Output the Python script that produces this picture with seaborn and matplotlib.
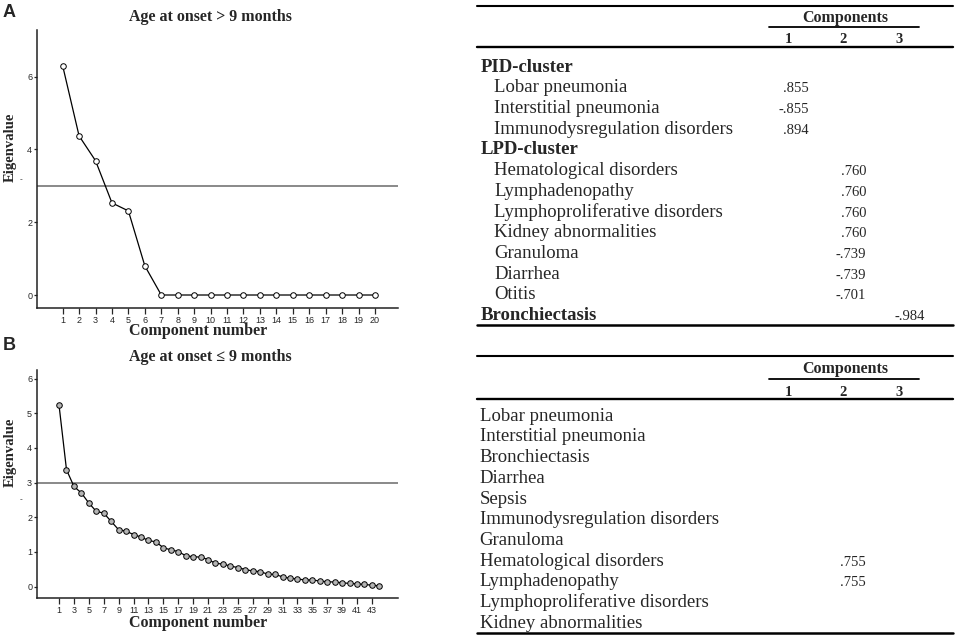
import numpy as np
import pandas as pd
import matplotlib
matplotlib.use('Agg')
import seaborn as sns
import matplotlib.pyplot as plt

# scree data, panel A (onset > 9 months) and panel B (onset <= 9 months)
components_a = list(range(1, 21))
eigen_a = [6.30, 4.37, 3.69, 2.53, 2.31, 0.80, 0.00, 0.00, 0.00, 0.00,
           0.00, 0.00, 0.00, 0.00, 0.00, 0.00, 0.00, 0.00, 0.00, 0.00]

components_b = list(range(1, 45))
eigen_b = [5.23, 3.37, 2.89, 2.70, 2.41, 2.17, 2.12, 1.88, 1.64, 1.60,
           1.50, 1.43, 1.33, 1.29, 1.12, 1.06, 1.01, 0.89, 0.86, 0.85,
           0.78, 0.67, 0.65, 0.59, 0.55, 0.49, 0.45, 0.43, 0.36, 0.35,
           0.28, 0.24, 0.22, 0.19, 0.19, 0.16, 0.14, 0.13, 0.11, 0.09,
           0.08, 0.06, 0.04, 0.02]

cutoff = 3

# loading tables
table_a_labels = ['PID-cluster', 'Lobar pneumonia', 'Interstitial pneumonia',
                  'Immunodysregulation disorders', 'LPD-cluster',
                  'Hematological disorders', 'Lymphadenopathy',
                  'Lymphoproliferative disorders', 'Kidney abnormalities',
                  'Granuloma', 'Diarrhea', 'Otitis', 'Bronchiectasis']
table_a_header = [True, False, False, False, True, False, False, False,
                  False, False, False, False, True]
table_a_component = [None, 1, 1, 1, None, 2, 2, 2, 2, 2, 2, 2, 3]
table_a_loading = [None, 0.855, -0.855, 0.894, None, 0.760, 0.760, 0.760,
                   0.760, -0.739, -0.739, -0.701, -0.984]

table_b_labels = ['Lobar pneumonia', 'Interstitial pneumonia', 'Bronchiectasis',
                  'Diarrhea', 'Sepsis', 'Immunodysregulation disorders',
                  'Granuloma', 'Hematological disorders', 'Lymphadenopathy',
                  'Lymphoproliferative disorders', 'Kidney abnormalities']
table_b_component = [None, None, None, None, None, None, None, 2, 2, None, None]
table_b_loading = [None, None, None, None, None, None, None, 0.755, 0.755, None, None]

component_numbers = [1, 2, 3]

sns.set_style('ticks')
plt.rcParams['font.family'] = ['Liberation Serif', 'DejaVu Serif']

W, H = 957, 638
fig = plt.figure(figsize=(W / 100, H / 100), dpi=100)


def px_axes(left, top, right, bottom):
    '''Add an axes given its box in figure pixels (origin top-left).'''
    return fig.add_axes([left / W, 1 - bottom / H, (right - left) / W, (bottom - top) / H])


def scree(ax, comps, eig, face, xticks, yticks, xlim, ylim):
    ax.axhline(cutoff, color='#808080', lw=1.3, zorder=1)
    sns.lineplot(x=comps, y=eig, ax=ax, color='black', lw=0.9, marker='o',
                 markersize=4, markerfacecolor=face, markeredgecolor='black',
                 markeredgewidth=0.7, zorder=3)
    ax.set_xlim(*xlim)
    ax.set_ylim(*ylim)
    ax.set_xticks(xticks)
    ax.set_yticks(yticks)
    sns.despine(ax=ax)
    for s in ['left', 'bottom']:
        ax.spines[s].set_linewidth(1.1)
        ax.spines[s].set_color('#222222')
    ax.tick_params(axis='x', length=4, width=0.9, pad=1.5, labelsize=6.5)
    ax.tick_params(axis='y', length=2.5, width=0.9, pad=1, labelsize=6.5)
    for lab in ax.get_xticklabels() + ax.get_yticklabels():
        lab.set_family(['Liberation Sans', 'DejaVu Sans'])
    ax.set_xlabel('')
    ax.set_ylabel('')


ax_a = px_axes(37, 30, 398, 308)
scree(ax_a, components_a, eigen_a, 'white', components_a, [0, 2, 4, 6],
      (-0.56, 21.4), (-0.357, 7.28))

ax_b = px_axes(37, 370, 398, 598)
scree(ax_b, components_b, eigen_b, '#b5b5b5', components_b[::2], list(range(7)),
      (-1.96, 46.5), (-0.33, 6.25))

# overlay in pixel coordinates for titles and tables
ov = fig.add_axes([0, 0, 1, 1])
ov.set_xlim(0, W)
ov.set_ylim(H, 0)
ov.axis('off')

sans = ['Liberation Sans', 'DejaVu Sans']
for letter, base in [('A', 16.7), ('B', 350)]:
    ov.text(3, base, letter, family=sans, fontweight='bold', fontsize=13, va='baseline')

for title, base in [('Age at onset > 9 months', 21), ('Age at onset \u2264 9 months', 361)]:
    ov.text(210.5, base, title, fontweight='bold', fontsize=11.5, ha='center', va='baseline')

for base in [335, 627]:
    ov.text(198.5, base, 'Component number', fontweight='bold', fontsize=11.5,
            ha='center', va='baseline')

for cy, dash_y in [(147.5, 180), (452, 500)]:
    ov.text(10.5, cy, 'Eigenvalue', fontweight='bold', fontsize=10.5, rotation=90,
            ha='center', va='center')
    ov.text(21.5, dash_y, '-', family=sans, fontsize=6, ha='center', va='center')

col_center = [788, 843, 899]
col_right = [809, 866, 925]
row_step = 20.7


def fmt(v):
    s = f'{abs(v):.3f}'[1:]
    return '-' + s if v < 0 else s


def table_head(top, comp_base, num_base, under, thick):
    ov.plot([477, 953], [top, top], color='black', lw=1.5)
    ov.text(845, comp_base, 'Components', fontweight='bold', fontsize=11.5,
            ha='center', va='baseline')
    ov.plot([769, 919], [under, under], color='black', lw=1.3)
    for c, x in zip(component_numbers, col_center):
        ov.text(x, num_base, str(c), fontweight='bold', fontsize=10.5,
                ha='center', va='baseline')
    ov.plot([477, 953], [thick, thick], color='black', lw=1.7)


# table A
table_head(6, 21.7, 43.3, 27.3, 46.7)
for i, (lab, hdr, comp, val) in enumerate(zip(table_a_labels, table_a_header,
                                              table_a_component, table_a_loading)):
    y = 71.7 + i * row_step
    ov.text(481 if hdr else 494.5, y, lab, fontsize=13.5,
            fontweight='bold' if hdr else 'normal', va='baseline')
    if val is not None:
        ov.text(col_right[comp - 1], y, fmt(val), fontsize=10.5, ha='right', va='baseline')
ov.plot([477, 953], [324.5, 324.5], color='black', lw=1.8)

# table B
table_head(356, 373.3, 395.7, 379.3, 399.3)
for i, (lab, comp, val) in enumerate(zip(table_b_labels, table_b_component, table_b_loading)):
    y = 420.7 + i * row_step
    ov.text(479.5, y, lab, fontsize=13.5, va='baseline')
    if val is not None:
        ov.text(col_right[comp - 1], y, fmt(val), fontsize=10.5, ha='right', va='baseline')
ov.plot([477, 953], [632.7, 632.7], color='black', lw=1.8)

fig.savefig('out.png', dpi=100)
